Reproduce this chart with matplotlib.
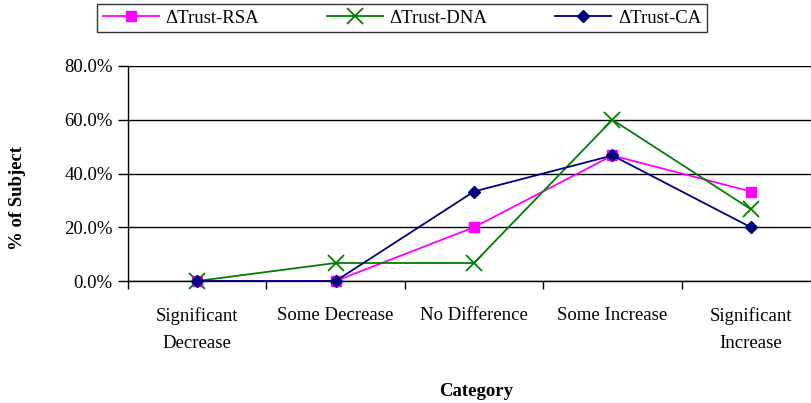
import numpy as np
import matplotlib.pyplot as plt
from matplotlib.ticker import FixedLocator, NullFormatter

plt.rcParams['font.family'] = ['Liberation Serif', 'DejaVu Serif']

categories = ['Significant\nDecrease', 'Some Decrease', 'No Difference',
              'Some Increase', 'Significant\nIncrease']
trust_rsa = [0.0, 0.0, 20.0, 46.7, 33.3]
trust_dna = [0.0, 6.7, 6.7, 60.0, 26.7]
trust_ca = [0.0, 0.0, 33.3, 46.7, 20.0]
yticks = [0, 20, 40, 60, 80]

W, H = 811, 403
fs = 13.5
fig = plt.figure(figsize=(W / 100, H / 100), dpi=100)
fig.set_facecolor('white')

# plot area: left edge at 128px, 0% at 281px, 80% at 66px, runs past right border
ax = fig.add_axes([128 / W, (H - 281) / H, 692 / W, 215 / H])

x = np.arange(len(categories))
ax.plot(x, trust_rsa, color='#ff00ff', marker='s', ms=7.5, lw=1.3,
        label='ΔTrust-RSA', clip_on=False, zorder=3)
ax.plot(x, trust_dna, color='#008000', marker='x', ms=11, mew=1.3, lw=1.3,
        label='ΔTrust-DNA', clip_on=False, zorder=4)
ax.plot(x, trust_ca, color='#000080', marker='D', ms=6.5, lw=1.3,
        label='ΔTrust-CA', clip_on=False, zorder=5)

ax.set_xlim(-0.5, len(categories) - 0.5)
ax.set_ylim(0, 80)

# y axis: gridlines and percent labels
ax.set_yticks(yticks)
ax.set_yticklabels(['%.1f%%' % v for v in yticks], fontsize=fs)
ax.yaxis.grid(True, color='black', lw=1.0)
ax.tick_params(axis='y', direction='out', length=7, width=1, pad=4)

# x axis: labels at category centres, tick marks between categories
ax.set_xticks(x)
ax.set_xticklabels(categories, fontsize=fs, linespacing=1.75, va='top')
ax.tick_params(axis='x', which='major', length=0, pad=19)
ax.xaxis.set_minor_locator(FixedLocator(np.arange(-0.5, len(categories), 1.0)))
ax.xaxis.set_minor_formatter(NullFormatter())
ax.tick_params(axis='x', which='minor', direction='out', length=6, width=1)

for s in ['top', 'right']:
    ax.spines[s].set_visible(False)
ax.spines['left'].set_linewidth(1.0)
ax.spines['bottom'].set_linewidth(1.0)
ax.set_axisbelow(True)

fig.text(18 / W, 1 - 198 / H, '% of Subject', fontsize=fs, fontweight='bold',
         rotation=90, ha='center', va='center')
fig.text(476 / W, 1 - 391 / H, 'Category', fontsize=fs, fontweight='bold',
         ha='center', va='center')

leg = fig.legend(loc='center', bbox_to_anchor=(402 / W, 1 - 18 / H), ncol=3,
                 frameon=True, fancybox=False, edgecolor='black', fontsize=fs,
                 handlelength=3.0, handletextpad=0.35, columnspacing=3.6,
                 borderpad=0.3)
leg.get_frame().set_linewidth(1.0)

fig.savefig('out.png', dpi=100)
